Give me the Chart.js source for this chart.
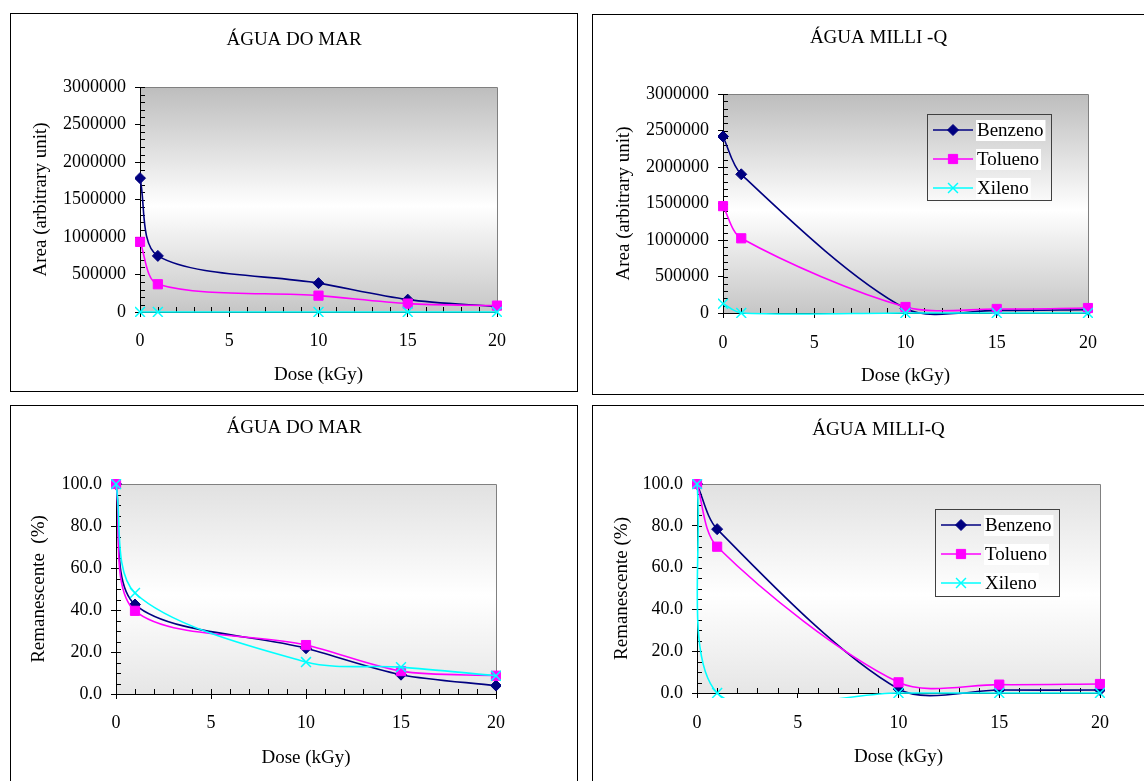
<!DOCTYPE html>
<html>
<head>
<meta charset="utf-8">
<script src="https://cdn.jsdelivr.net/npm/chart.js@4/dist/chart.umd.min.js"></script>
<style>
  html, body { margin: 0; padding: 0; background: #fff; overflow: hidden; width: 1144px; height: 781px; }
  .box { position: absolute; border: 1px solid #000; box-sizing: border-box; background: #fff; }
  .box canvas { position: absolute; left: 0; top: 0; }
</style>
</head>
<body>
<div class="box" style="left:10px;top:13px;width:568px;height:379px"><canvas id="c1" width="566" height="377"></canvas></div>
<div class="box" style="left:592px;top:14px;width:573px;height:381px"><canvas id="c2" width="571" height="379"></canvas></div>
<div class="box" style="left:10px;top:405px;width:568px;height:400px"><canvas id="c3" width="566" height="398"></canvas></div>
<div class="box" style="left:592px;top:405px;width:573px;height:400px"><canvas id="c4" width="571" height="398"></canvas></div>
<script>
// dose points (kGy)
const doses = [0, 1, 10, 15, 20];
const seriesNames = ['Benzeno', 'Tolueno', 'Xileno'];

// area, agua do mar
const marAreaBenzeno = [1785000, 748000, 385000, 165000, 70000];
const marAreaTolueno = [935000, 370000, 218000, 112000, 85000];
const marAreaXileno = [0, 0, 0, 0, 0];
// area, agua milli-q
const milliAreaBenzeno = [2418000, 1900000, 62000, 36000, 45000];
const milliAreaTolueno = [1464000, 1023000, 82000, 55000, 68000];
const milliAreaXileno = [127000, 0, 0, 0, 0];
// remanescente %, agua do mar
const marPctBenzeno = [100, 42.6, 21.8, 9.2, 4.0];
const marPctTolueno = [100, 39.6, 23.3, 10.9, 8.7];
const marPctXileno = [100, 48.1, 15.2, 12.8, 8.7];
// remanescente %, agua milli-q
const milliPctBenzeno = [100, 78.4, 1.9, 1.4, 1.4];
const milliPctTolueno = [100, 70.0, 5.1, 4.0, 4.3];
const milliPctXileno = [100, 0, 0, 0, 0];

// tick labels
const doseTicks = [0, 5, 10, 15, 20];
const areaTicks = [0, 500000, 1000000, 1500000, 2000000, 2500000, 3000000];
const pctTicks = [0, 20, 40, 60, 80, 100];

const FONT = '"Liberation Serif", "Times New Roman", serif';
const TSIZE = 19, KSIZE = 18;
const LHT = TSIZE * 1.2, LHK = KSIZE * 1.2;
const colors = ['#000080', '#ff00ff', '#00ffff'];
const styles = [
  { pointStyle: 'rectRot', pointRadius: 5.5, pointBorderWidth: 1 },
  { pointStyle: 'rect', pointRadius: 6.5, pointBorderWidth: 1 },
  { pointStyle: 'crossRot', pointRadius: 7, pointBorderWidth: 1.5 },
];

// excel-like gradient plot area
const plotBg = {
  id: 'plotBg',
  beforeDraw(chart, args, o) {
    const { ctx, chartArea: a } = chart;
    const g = ctx.createLinearGradient(0, a.top, 0, a.bottom);
    g.addColorStop(0, o.top);
    g.addColorStop(0.53, '#ffffff');
    g.addColorStop(1, o.bottom);
    ctx.save();
    ctx.fillStyle = g;
    ctx.fillRect(a.left, a.top, a.width, a.height);
    ctx.strokeStyle = '#808080';
    ctx.lineWidth = 1;
    ctx.beginPath();
    ctx.moveTo(a.left, Math.round(a.top) + 0.5);
    ctx.lineTo(Math.round(a.right) + 0.5, Math.round(a.top) + 0.5);
    ctx.lineTo(Math.round(a.right) + 0.5, a.bottom);
    ctx.stroke();
    ctx.restore();
  }
};

// small inside tick marks
const minorTicks = {
  id: 'minorTicks',
  beforeDatasetsDraw(chart, args, o) {
    const { ctx, chartArea: a, scales: { x, y } } = chart;
    ctx.save();
    ctx.strokeStyle = '#000';
    ctx.lineWidth = 1;
    ctx.beginPath();
    for (let v = x.min; v <= x.max + 1e-9; v += o.x) {
      const px = Math.round(x.getPixelForValue(v)) + 0.5;
      ctx.moveTo(px, a.bottom);
      ctx.lineTo(px, a.bottom - 5);
    }
    for (let v = y.min; v <= y.max + 1e-9; v += o.y) {
      const py = Math.round(y.getPixelForValue(v)) + 0.5;
      ctx.moveTo(a.left, py);
      ctx.lineTo(a.left + 5, py);
    }
    ctx.stroke();
    ctx.restore();
  }
};

// legend box inside the plot
const boxLegend = {
  id: 'boxLegend',
  afterDatasetsDraw(chart, args, o) {
    const ctx = chart.ctx;
    ctx.save();
    ctx.strokeStyle = '#404040';
    ctx.lineWidth = 1;
    ctx.strokeRect(o.x + 0.5, o.y + 0.5, o.w, o.h);
    ctx.font = TSIZE + 'px ' + FONT;
    ctx.textBaseline = 'middle';
    chart.data.datasets.forEach((ds, i) => {
      const cy = o.y + 16 + i * 29;
      ctx.strokeStyle = ds.borderColor;
      ctx.fillStyle = ds.backgroundColor;
      ctx.lineWidth = ds.borderWidth;
      ctx.beginPath();
      ctx.moveTo(o.x + 6, cy);
      ctx.lineTo(o.x + 46, cy);
      ctx.stroke();
      ctx.lineWidth = ds.pointBorderWidth;
      Chart.helpers.drawPoint(ctx, { pointStyle: ds.pointStyle, radius: ds.pointRadius, borderWidth: ds.pointBorderWidth, rotation: 0 }, o.x + 26, cy);
      const tx = o.x + 50;
      const w = ctx.measureText(ds.label).width;
      ctx.fillStyle = '#fff';
      ctx.fillRect(tx - 1, cy - 10, w + 3, 21);
      ctx.fillStyle = '#000';
      ctx.fillText(ds.label, tx, cy + 1);
    });
    ctx.restore();
  }
};

Chart.register(plotBg, minorTicks, boxLegend);

function panel(id, p) {
  const cv = document.getElementById(id);
  const W = cv.width, H = cv.height;
  const fontT = { family: FONT, size: TSIZE, weight: 'normal', lineHeight: 1.2 };
  const fontK = { family: FONT, size: KSIZE, weight: 'normal', lineHeight: 1.2 };
  const datasets = p.values.map((vals, i) => ({
    label: seriesNames[i],
    data: doses.map((d, k) => ({ x: d, y: vals[k] })),
    borderColor: colors[i],
    backgroundColor: colors[i],
    pointBackgroundColor: colors[i],
    pointBorderColor: colors[i],
    borderWidth: 1.6,
    tension: 0.3,
    capBezierPoints: false,
    clip: { left: 5, top: 5, right: 5, bottom: 5 },
    order: 2 - i,
    ...styles[i],
  }));
  return new Chart(cv, {
    type: 'line',
    data: { datasets },
    options: {
      responsive: false,
      animation: false,
      events: [],
      layout: { padding: 0 },
      plugins: {
        legend: { display: false },
        tooltip: { enabled: false },
        title: {
          display: true, text: p.title, color: '#000', font: fontT,
          padding: { top: p.titleY - LHT / 2, bottom: p.area.t - p.titleY - LHT / 2 },
        },
        plotBg: p.bg,
        minorTicks: { x: 1, y: p.yMinor },
        boxLegend: p.legend || false,
      },
      scales: {
        x: {
          type: 'linear', min: 0, max: 20,
          afterFit: s => { s.height = H - p.area.b; },
          afterBuildTicks: s => { s.ticks = doseTicks.map(v => ({ value: v })); },
          border: { display: true, color: '#000', width: 1 },
          grid: { drawOnChartArea: false, drawTicks: true, tickLength: 5, color: '#000' },
          ticks: { color: '#000', font: fontK, padding: p.xLabelY - p.area.b - 5 - LHK / 2, maxRotation: 0 },
          title: { display: true, text: 'Dose (kGy)', color: '#000', font: fontT, padding: { top: 0, bottom: H - p.xTitleY - LHT / 2 } },
        },
        y: {
          type: 'linear', min: 0, max: p.yMax,
          afterFit: s => { s.width = p.area.l; },
          afterBuildTicks: s => { s.ticks = p.yTicks.map(v => ({ value: v })); },
          border: { display: true, color: '#000', width: 1 },
          grid: { drawOnChartArea: false, drawTicks: true, tickLength: 5, color: '#000' },
          ticks: { color: '#000', font: fontK, padding: 9, callback: p.fmt },
          title: { display: true, text: p.yTitle, color: '#000', font: fontT, padding: { top: p.yTitleX - LHT / 2, bottom: 0 } },
        },
        // empty right-hand space so the title stays centred on the whole box
        spacer: {
          type: 'linear', position: 'right', display: true,
          afterFit: s => { s.width = W - p.area.r; },
          border: { display: false },
          grid: { display: false, drawTicks: false },
          ticks: { display: false },
        },
      },
    },
  });
}

const darkBg = { top: '#bdbdbd', bottom: '#c6c6c6' };
const lightBg = { top: '#e1e1e1', bottom: '#e6e6e6' };
const fmtArea = v => String(v);
const fmtPct = v => v.toFixed(1);

panel('c1', {
  title: 'ÁGUA DO MAR', yTitle: 'Area (arbitrary unit)',
  values: [marAreaBenzeno, marAreaTolueno, marAreaXileno],
  yMax: 3000000, yTicks: areaTicks, yMinor: 100000, fmt: fmtArea, bg: darkBg,
  area: { l: 129, r: 486, t: 73, b: 298 }, titleY: 26, xLabelY: 327, xTitleY: 361, yTitleX: 30,
});
panel('c2', {
  title: 'ÁGUA MILLI -Q', yTitle: 'Area (arbitrary unit)',
  values: [milliAreaBenzeno, milliAreaTolueno, milliAreaXileno],
  yMax: 3000000, yTicks: areaTicks, yMinor: 100000, fmt: fmtArea, bg: darkBg,
  area: { l: 130, r: 495, t: 79, b: 298 }, titleY: 23, xLabelY: 328, xTitleY: 361, yTitleX: 31,
  legend: { x: 334, y: 99, w: 124, h: 86 },
});
panel('c3', {
  title: 'ÁGUA DO MAR', yTitle: 'Remanescente  (%)',
  values: [marPctBenzeno, marPctTolueno, marPctXileno],
  yMax: 100, yTicks: pctTicks, yMinor: 5, fmt: fmtPct, bg: lightBg,
  area: { l: 105, r: 485, t: 78, b: 288 }, titleY: 22, xLabelY: 317, xTitleY: 352, yTitleX: 28,
});
panel('c4', {
  title: 'ÁGUA MILLI-Q', yTitle: 'Remanescente (%)',
  values: [milliPctBenzeno, milliPctTolueno, milliPctXileno],
  yMax: 100, yTicks: pctTicks, yMinor: 5, fmt: fmtPct, bg: lightBg,
  area: { l: 104, r: 507, t: 78, b: 287 }, titleY: 24, xLabelY: 317, xTitleY: 351, yTitleX: 29,
  legend: { x: 342, y: 103, w: 124, h: 87 },
});
</script>
</body>
</html>
